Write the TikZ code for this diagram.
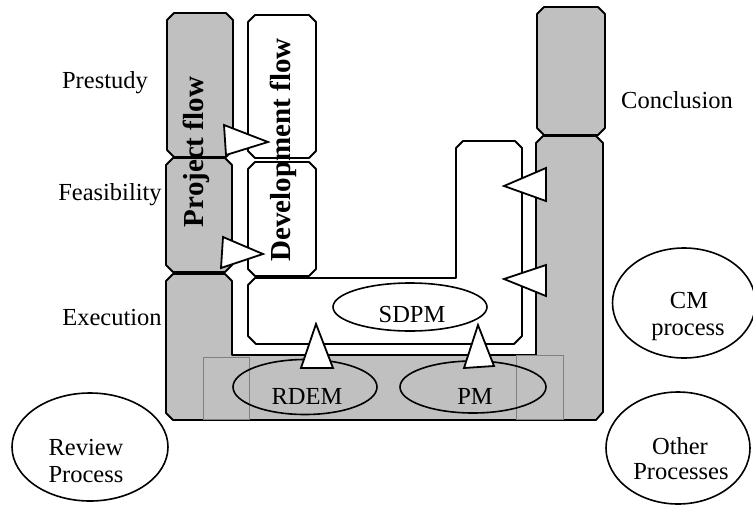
\documentclass[tikz,border=0pt]{standalone}
\usepackage{fontspec}
\setmainfont{Liberation Serif}
\usetikzlibrary{shapes.geometric}
\definecolor{boxgray}{HTML}{C0C0C0}
\definecolor{thingray}{HTML}{808080}
\tikzset{
  graybox/.style={fill=boxgray, draw=black, line width=1.8pt, line join=round},
  whitebox/.style={fill=white, draw=black, line width=1.8pt, line join=round},
  tri/.style={fill=white, draw=black, line width=1.8pt, line join=miter},
  thinrect/.style={draw=thingray, line width=0.7pt},
  ell/.style={draw=black, line width=1.6pt},
  lbl/.style={font=\fontsize{24.5}{26}\selectfont, anchor=base, inner sep=0pt},
  vlbl/.style={font=\fontsize{29}{30}\selectfont\bfseries, anchor=base, rotate=90, inner sep=0pt},
}
\begin{document}
\begin{tikzpicture}[x=1pt,y=-1pt]
\useasboundingbox (0,0) rectangle (753,504);
% left gray column
\draw[graybox] (174,13) -- (226,13) -- (233,20) -- (233,150) -- (226,157) -- (174,157) -- (167,150) -- (167,20) -- cycle;
\draw[graybox] (173,158) -- (225,158) -- (232,165) -- (232,265) -- (225,272) -- (173,272) -- (166,265) -- (166,165) -- cycle;
% right top gray
\draw[graybox] (544,7) -- (598,7) -- (605,14) -- (605,128) -- (598,135) -- (544,135) -- (537,128) -- (537,14) -- cycle;
% gray U
\draw[graybox] (173,274) -- (225,274) -- (232,281) -- (232,355) -- (536,355) -- (536,143) -- (543,136) -- (596,136) -- (603,143) -- (603,412) -- (596,420) -- (173,420) -- (166,413) -- (166,281) -- cycle;
% thin rectangles
\draw[thinrect] (203,357) rectangle (249,419);
\draw[thinrect] (516,355) rectangle (563,419);
% development boxes
\draw[whitebox] (255,15) -- (309,15) -- (316,22) -- (316,151) -- (309,158) -- (255,158) -- (248,151) -- (248,22) -- cycle;
\draw[whitebox] (255,162) -- (309,162) -- (316,169) -- (316,269) -- (309,276) -- (255,276) -- (248,269) -- (248,169) -- cycle;
% SDPM white U
\draw[whitebox] (255,278) -- (456,278) -- (456,148) -- (463,141) -- (515,141) -- (522,148) -- (522,336) -- (514,344) -- (256,344) -- (248,336) -- (248,285) -- cycle;
% ellipses
\node[ellipse, ell, fill=white, minimum width=154pt, minimum height=48pt, inner sep=0pt] (sdpm) at (410,307) {};
\node[lbl] (sdpmt) at (412,322) {SDPM};
\node[ellipse, ell, minimum width=144pt, minimum height=55pt, inner sep=0pt] (rdem) at (305,387) {};
\node[lbl] (rdemt) at (307,404) {RDEM};
\node[ellipse, ell, minimum width=146pt, minimum height=52pt, inner sep=0pt] (pm) at (473,387) {};
\node[lbl] (pmt) at (475,404) {PM};
% triangles
\draw[tri] (224,125) -- (268,142) -- (226,155) -- cycle;
\draw[tri] (223,237) -- (263,254) -- (221,268) -- cycle;
\draw[tri] (546,168) -- (504,186) -- (546,201) -- cycle;
\draw[tri] (546,265) -- (504,279) -- (546,296) -- cycle;
\draw[tri] (301,368) -- (316,324) -- (333,368) -- cycle;
\draw[tri] (464,368) -- (478,325) -- (494,366) -- cycle;
% vertical labels
\node[vlbl] (proj) at (203,152) {Project flow};
\node[vlbl] (dev) at (290,150) {Development flow};
% phase labels
\node[lbl] (pre) at (105,88) {Prestudy};
\node[lbl] (fea) at (110,200) {Feasibility};
\node[lbl] (exe) at (112,325) {Execution};
\node[lbl] (con) at (677,108) {Conclusion};
% outer ellipses
\node[ellipse, ell, minimum width=143pt, minimum height=110pt, inner sep=0pt] (cm) at (684,303) {};
\node[lbl] (cmt1) at (689,308) {CM};
\node[lbl] (cmt2) at (688,335) {process};
\node[ellipse, ell, minimum width=144pt, minimum height=112pt, inner sep=0pt] (other) at (678,448) {};
\node[lbl] (ot1) at (680,454) {Other};
\node[lbl] (ot2) at (681,479) {Processes};
\node[ellipse, ell, minimum width=156pt, minimum height=108pt, inner sep=0pt] (rev) at (90,447) {};
\node[lbl] (rv1) at (86,455) {Review};
\node[lbl] (rv2) at (86,482) {Process};
\end{tikzpicture}
\end{document}
